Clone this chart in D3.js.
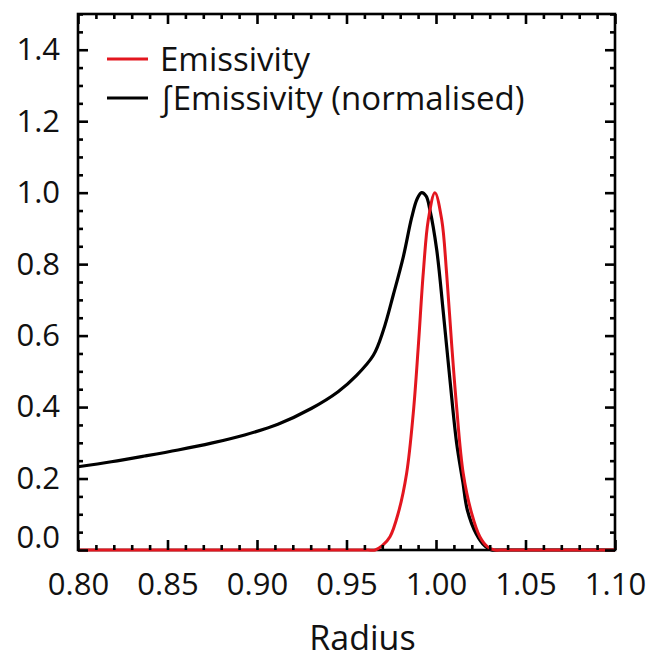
<!DOCTYPE html>
<html>
<head>
<meta charset="utf-8">
<script src="https://cdn.jsdelivr.net/npm/d3@7/dist/d3.min.js"></script>
<style>
  html, body { margin: 0; padding: 0; background: #ffffff; }
  svg { display: block; }
  text { font-family: "Open Sans", "Noto Sans", sans-serif; fill: #111; }
</style>
</head>
<body>
<svg id="chart" width="649" height="659"></svg>
<script>
// ---- data ----
const emisRadius = [0.80, 0.85, 0.90, 0.94, 0.955, 0.962, 0.966, 0.970, 0.9743, 0.9789, 0.9836, 0.9873, 0.9901,
                    0.9929, 0.9957, 0.9994, 1.0032, 1.0059, 1.0087, 1.0115, 1.0152, 1.0199, 1.0245, 1.029,
                    1.033, 1.037, 1.045, 1.06, 1.08, 1.10];
const emisValue  = [0, 0, 0, 0, 0, 0, 0, 0.012, 0.037, 0.103, 0.215, 0.383, 0.569,
                    0.776, 0.924, 1.0, 0.924, 0.776, 0.579, 0.401, 0.215, 0.103, 0.037, 0.008,
                    0, 0, 0, 0, 0, 0];

const intRadius = [0.80, 0.8186, 0.8372, 0.8559, 0.8745, 0.8931, 0.9117, 0.9303, 0.9453, 0.9555, 0.965,
                   0.9706, 0.9762, 0.9818, 0.9864, 0.9895, 0.992, 0.9945, 0.9966, 1.0004, 1.0041,
                   1.0078, 1.0115, 1.0150, 1.0175, 1.0225, 1.0275, 1.031, 1.035, 1.045, 1.06, 1.08, 1.10];
const intValue  = [0.233, 0.247, 0.263, 0.280, 0.299, 0.322, 0.352, 0.396, 0.443, 0.488, 0.545,
                   0.615, 0.715, 0.822, 0.930, 0.983, 1.0, 0.99, 0.952, 0.840, 0.664,
                   0.476, 0.300, 0.190, 0.112, 0.045, 0.010, 0, 0, 0, 0, 0, 0];

const xTickValues = [0.80, 0.85, 0.90, 0.95, 1.00, 1.05, 1.10];
const yTickValues = [0.0, 0.2, 0.4, 0.6, 0.8, 1.0, 1.2, 1.4];
const legendLabels = ["Emissivity", "\u222BEmissivity (normalised)"];
const xLabel = "Radius";

// ---- layout ----
const svg = d3.select("#chart");
const L = 78, R = 615, T = 14, B = 550;
const x = d3.scaleLinear().domain([0.80, 1.10]).range([L, R]);
const y = d3.scaleLinear().domain([0, 1.5]).range([B, T]);

const RED = "#e3161f";
const MAJ = 10, MIN = 5;

const xMinor = d3.range(80, 111, 1).map(v => v / 100).filter(v => Math.round(v * 100) % 5 !== 0);
const yMinor = d3.range(0, 31, 1).map(v => v / 20).filter(v => (Math.round(v * 20) % 4) !== 0);

function styleAxis(g) {
  g.select(".domain").remove();
  g.selectAll(".tick line").attr("stroke", "#000").attr("stroke-width", 2.6);
  g.selectAll("text").attr("font-size", 31).attr("fill", "#111");
}

// frame
svg.append("rect").attr("x", L).attr("y", T).attr("width", R - L).attr("height", B - T)
  .attr("fill", "none").attr("stroke", "#000").attr("stroke-width", 2.6);

// curves
const line = d3.line().x(d => x(d[0])).y(d => y(d[1])).curve(d3.curveCatmullRom.alpha(0.5));
const intData = intRadius.map((r, i) => [r, intValue[i]]);
const emisData = emisRadius.map((r, i) => [r, emisValue[i]]);

svg.append("path").datum(intData).attr("d", line)
  .attr("fill", "none").attr("stroke", "#000").attr("stroke-width", 3.2).attr("stroke-linejoin", "round");
svg.append("path").datum(emisData).attr("d", line)
  .attr("fill", "none").attr("stroke", RED).attr("stroke-width", 3).attr("stroke-linejoin", "round");

// minor ticks
svg.append("g").attr("transform", `translate(0,${B})`)
  .call(d3.axisBottom(x).tickValues(xMinor).tickSizeInner(-MIN).tickSizeOuter(0).tickFormat(() => ""))
  .call(styleAxis);
svg.append("g").attr("transform", `translate(0,${T})`)
  .call(d3.axisTop(x).tickValues(xMinor).tickSizeInner(-MIN).tickSizeOuter(0).tickFormat(() => ""))
  .call(styleAxis);
svg.append("g").attr("transform", `translate(${L},0)`)
  .call(d3.axisLeft(y).tickValues(yMinor).tickSizeInner(-MIN).tickSizeOuter(0).tickFormat(() => ""))
  .call(styleAxis);
svg.append("g").attr("transform", `translate(${R},0)`)
  .call(d3.axisRight(y).tickValues(yMinor).tickSizeInner(-MIN).tickSizeOuter(0).tickFormat(() => ""))
  .call(styleAxis);

// major ticks
svg.append("g").attr("transform", `translate(0,${B})`)
  .call(d3.axisBottom(x).tickValues(xTickValues).tickSizeInner(-MAJ).tickSizeOuter(0).tickPadding(23).tickFormat(d3.format(".2f")))
  .call(styleAxis);
svg.append("g").attr("transform", `translate(0,${T})`)
  .call(d3.axisTop(x).tickValues(xTickValues).tickSizeInner(-MAJ).tickSizeOuter(0).tickFormat(() => ""))
  .call(styleAxis);
const gy = svg.append("g").attr("transform", `translate(${L},0)`)
  .call(d3.axisLeft(y).tickValues(yTickValues).tickSizeInner(-MAJ).tickSizeOuter(0).tickPadding(18).tickFormat(d3.format(".1f")))
  .call(styleAxis);
gy.selectAll(".tick").filter(d => d === 0).select("text").attr("y", -12);
svg.append("g").attr("transform", `translate(${R},0)`)
  .call(d3.axisRight(y).tickValues(yTickValues).tickSizeInner(-MAJ).tickSizeOuter(0).tickFormat(() => ""))
  .call(styleAxis);

// legend
const legendColors = [RED, "#000"];
const legendY = [59, 98];
legendLabels.forEach((lab, i) => {
  svg.append("line").attr("x1", 107).attr("x2", 148).attr("y1", legendY[i]).attr("y2", legendY[i])
    .attr("stroke", legendColors[i]).attr("stroke-width", 3);
  svg.append("text").attr("x", 160).attr("y", legendY[i] + 12)
    .attr("font-size", 33).text(lab);
});

// x label
svg.append("text").attr("x", (L + R) / 2 + 16).attr("y", 650)
  .attr("text-anchor", "middle").attr("font-size", 34).text(xLabel);
</script>
</body>
</html>
